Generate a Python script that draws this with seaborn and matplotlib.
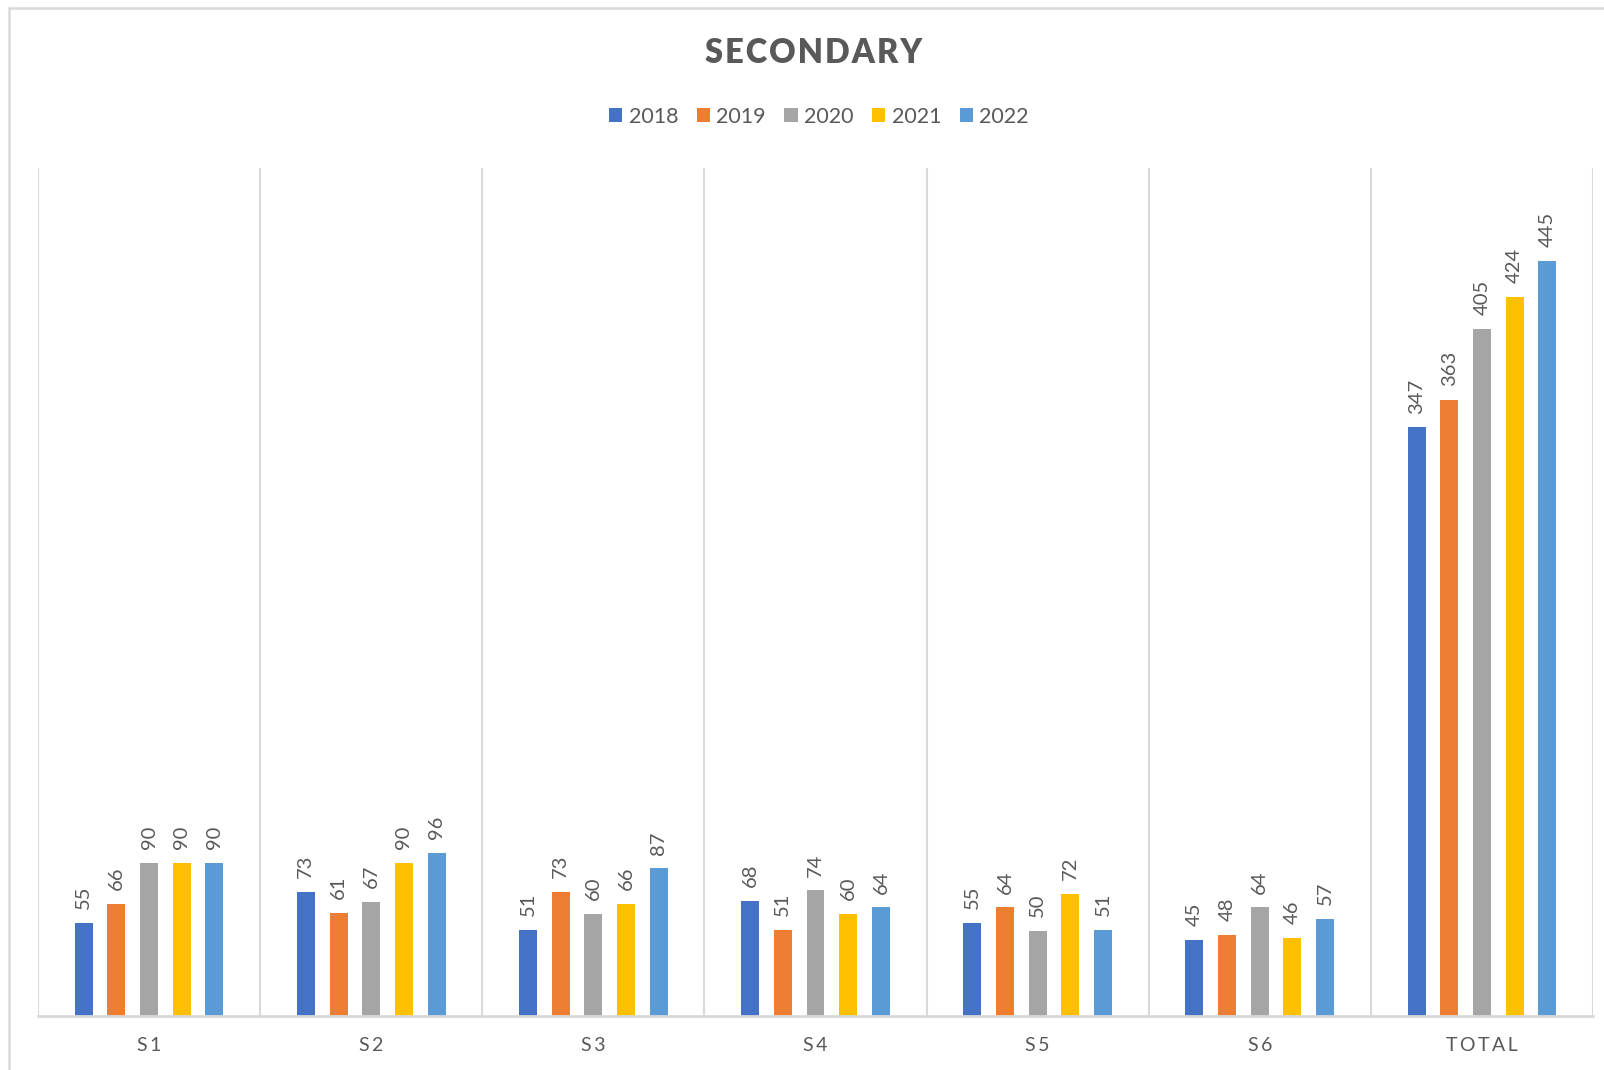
import matplotlib
matplotlib.use("Agg")
import matplotlib.pyplot as plt
from matplotlib.patches import Rectangle, Patch
import seaborn as sns
import pandas as pd

# Enrolment by class and year
classes = ["S1", "S2", "S3", "S4", "S5", "S6", "TOTAL"]
years = ["2018", "2019", "2020", "2021", "2022"]
v2018 = [55, 73, 51, 68, 55, 45, 347]
v2019 = [66, 61, 73, 51, 64, 48, 363]
v2020 = [90, 67, 60, 74, 50, 64, 405]
v2021 = [90, 90, 66, 60, 72, 46, 424]
v2022 = [90, 96, 87, 64, 51, 57, 445]
colors = ["#4472C4", "#ED7D31", "#A5A5A5", "#FFC000", "#5B9BD5"]

series = [v2018, v2019, v2020, v2021, v2022]
rows = []
for yr, vals in zip(years, series):
    for c, v in zip(classes, vals):
        rows.append({"class": c, "year": yr, "count": v})
df = pd.DataFrame(rows)

sns.set_theme(style="white")
plt.rcParams["font.family"] = ["Lato", "DejaVu Sans"]

TXT = "#595959"
GRID = "#D9D9D9"

fig = plt.figure(figsize=(16.04, 10.70), dpi=100)
ax = fig.add_axes([38 / 1604, 1 - 1016 / 1070, (1593 - 38) / 1604, (1016 - 168) / 1070])

sns.barplot(data=df, x="class", y="count", hue="year", order=classes,
            hue_order=years, palette=colors, width=0.736, gap=0.45,
            saturation=1, legend=False, ax=ax, edgecolor="none")

for cont in ax.containers:
    ax.bar_label(cont, rotation=90, padding=10, color=TXT, fontsize=14.5)

ax.set_ylim(0, 500)
ax.set_xlim(-0.5, len(classes) - 0.5)
ax.set_yticks([])
ax.set_xlabel("")
ax.set_ylabel("")

# category separators
for b in range(len(classes) + 1):
    ax.axvline(b - 0.5, color=GRID, lw=1.5, zorder=0)

for s in ["top", "left", "right"]:
    ax.spines[s].set_visible(False)
ax.spines["bottom"].set_color(GRID)
ax.spines["bottom"].set_linewidth(2)

spaced = ["\u2009".join(list(c)) for c in classes]
ax.set_xticks(range(len(classes)))
ax.set_xticklabels(spaced, color=TXT, fontsize=14)
ax.tick_params(axis="x", length=0, pad=15)

# chart frame
fig.patches.append(Rectangle((9 / 1604, -0.1), 1.2, 1 - 8 / 1070 + 0.1,
                             transform=fig.transFigure, fill=False,
                             edgecolor=GRID, lw=1.8))

fig.text(814 / 1604, 1 - 53 / 1070, "\u200a".join(list("SECONDARY")),
         ha="center", va="center", fontsize=23.5, fontweight="heavy", color=TXT)

handles = [Patch(facecolor=c, edgecolor="none") for c in colors]
fig.legend(handles, years, loc="center", bbox_to_anchor=(819 / 1604, 1 - 117 / 1070),
           ncol=5, frameon=False, fontsize=15.5, labelcolor=TXT,
           handlelength=0.62, handleheight=0.62, handletextpad=0.3, columnspacing=0.85)

fig.savefig("out.png", dpi=100, facecolor="white")
